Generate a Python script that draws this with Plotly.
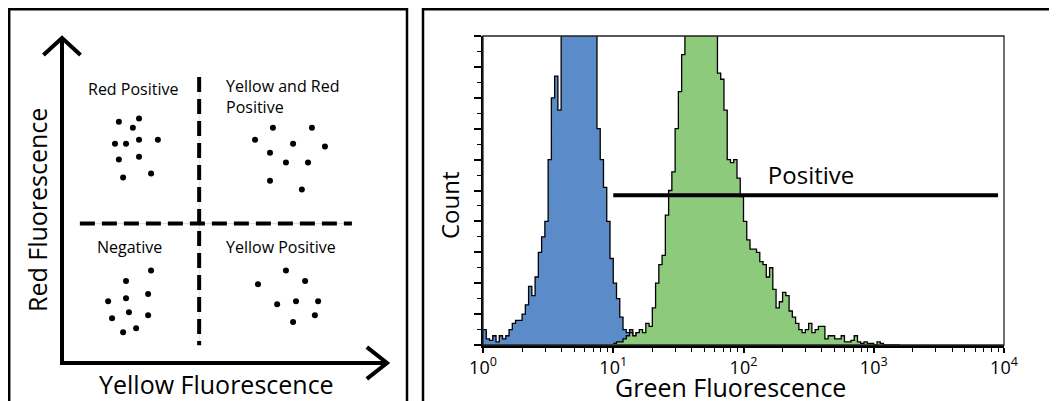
import numpy as np
import plotly.graph_objects as go

# The page body has an 8px margin, so the figure is drawn 8px right/down.
OFF = 8
W, H = 1057 - OFF, 401 - OFF
FONT = "Open Sans"

# ---------------- Right panel data (log-decade bins of width 0.025) ----------------
bin_width = 0.025
blue_start = 0.0
blue_counts = [5, 2, 1.5, 3, 1, 3, 2, 3, 5, 7, 8, 8, 10, 13, 19, 16, 22, 30, 35, 40,
               60, 80, 87, 76, 130, 118, 126, 135, 140, 142, 140, 135, 128, 118, 105,
               70, 60, 51, 40, 28, 20, 15, 9, 5, 4, 5, 3, 4, 2, 1, 1, 0.5, 1, 0.5, 0, 0]
green_start = 1.0
green_counts = [0.5, 1, 1, 2, 3, 4, 3, 4, 5, 4, 7, 6, 12, 20, 26, 29, 42, 50, 56, 70,
                82, 94, 115, 130, 140, 148, 152, 155, 152, 145, 135, 104, 88, 86, 76, 60,
                59, 60, 54, 48, 40, 34, 31, 31, 30, 27, 26, 22, 25, 18, 12, 14, 17, 16,
                11, 9, 7, 5, 4, 5, 7, 4, 5, 6, 6, 2, 3, 3, 2, 2, 3, 1, 1, 1.5, 3, 1,
                0.5, 1, 0.5, 0.5, 0, 1, 0.5, 0, 0, 0, 0, 0]
x_ticks = [1, 10, 100, 1000, 10000]
x_tick_text = ["10<sup>0</sup>", "10<sup>1</sup>", "10<sup>2</sup>", "10<sup>3</sup>", "10<sup>4</sup>"]
x_minor = [m * d for d in (1, 10, 100, 1000) for m in range(2, 10)]
gate_x = [10, 9000]
gate_y = [48.5, 48.5]
gate_label = "Positive"
gate_label_x = [330]
gate_label_y = [54]

# ---------------- Left panel data (schematic, arbitrary units 0-100) ----------------
red_pos_x = [17.5, 23.7, 21.8, 16.3, 19.7, 23.7, 29.5, 17.5, 23.7, 18.8, 27.4]
red_pos_y = [74.2, 75.2, 72.4, 67.5, 67.5, 68.7, 68.7, 62.6, 63.5, 57.1, 58.3]
both_pos_x = [64.9, 76.9, 59.4, 71.1, 80.9, 64.0, 68.9, 75.7, 64.0, 73.8]
both_pos_y = [72.4, 72.4, 68.7, 67.5, 66.6, 64.7, 61.7, 61.7, 56.1, 53.4]
neg_x = [27.4, 19.7, 26.5, 14.2, 19.7, 15.4, 20.6, 26.5, 18.8, 22.8]
neg_y = [28.5, 25.2, 21.2, 19.0, 19.9, 13.8, 15.6, 14.7, 9.5, 10.7]
yel_pos_x = [68.9, 74.8, 60.3, 66.2, 72.0, 78.8, 77.8, 71.1]
yel_pos_y = [28.5, 25.2, 24.2, 18.1, 19.0, 19.0, 14.7, 12.6]
gate_split_x = 42.2
gate_split_y = 42.9


def px(x):
    return (x - OFF) / W


def py(y):
    return 1 - (y - OFF) / H


def hist_xy(start, counts):
    edges = 10 ** (start + bin_width * np.arange(len(counts) + 1))
    vals = list(counts) + [counts[-1]]
    return edges, vals


fig = go.Figure()

bx, by = hist_xy(blue_start, blue_counts)
gx, gy = hist_xy(green_start, green_counts)
fig.add_trace(go.Scatter(x=bx, y=by, mode="lines", line=dict(shape="hv", color="black", width=1.3),
                         fill="tozeroy", fillcolor="#5b8cc9", xaxis="x", yaxis="y", showlegend=False))
fig.add_trace(go.Scatter(x=gx, y=gy, mode="lines", line=dict(shape="hv", color="black", width=1.3),
                         fill="tozeroy", fillcolor="#8dca7b", xaxis="x", yaxis="y", showlegend=False))
fig.add_trace(go.Scatter(x=gate_x, y=gate_y, mode="lines", line=dict(color="black", width=4),
                         xaxis="x", yaxis="y", showlegend=False))
fig.add_trace(go.Scatter(x=gate_label_x, y=gate_label_y, mode="text", text=[gate_label],
                         textfont=dict(family=FONT, size=24, color="black"),
                         xaxis="x", yaxis="y", showlegend=False))

# left panel dots
for xs, ys in [(red_pos_x, red_pos_y), (both_pos_x, both_pos_y), (neg_x, neg_y), (yel_pos_x, yel_pos_y)]:
    fig.add_trace(go.Scatter(x=xs, y=ys, mode="markers", marker=dict(color="black", size=6),
                             xaxis="x2", yaxis="y2", showlegend=False))

shapes = []
# outer panel boxes
shapes.append(dict(type="rect", xref="paper", yref="paper", x0=px(9.2), x1=px(407), y0=-0.1, y1=py(9.3),
                   line=dict(color="black", width=2.5)))
shapes.append(dict(type="rect", xref="paper", yref="paper", x0=px(423), x1=1.1, y0=-0.1, y1=py(9.3),
                   line=dict(color="black", width=2.5)))
# histogram frame (thin top/right)
shapes.append(dict(type="rect", xref="x domain", yref="y domain", x0=0, x1=1, y0=0, y1=1,
                   line=dict(color="#222", width=1.3)))
# left schematic: faint guide lines + dashed gates
shapes.append(dict(type="line", xref="x2", yref="y2", x0=gate_split_x, x1=gate_split_x, y0=5.5, y1=88,
                   line=dict(color="#dddddd", width=1)))
shapes.append(dict(type="line", xref="x2", yref="y2", x0=5.5, x1=89.2, y0=gate_split_y, y1=gate_split_y,
                   line=dict(color="#dddddd", width=1)))
shapes.append(dict(type="line", xref="x2", yref="y2", x0=gate_split_x, x1=gate_split_x, y0=88, y1=5.5,
                   line=dict(color="black", width=4, dash="15px,7px")))
shapes.append(dict(type="line", xref="x2", yref="y2", x0=5.5, x1=89.2, y0=gate_split_y, y1=gate_split_y,
                   line=dict(color="black", width=4, dash="15px,7px")))
# axes with arrows
shapes.append(dict(type="path", xref="x2", yref="y2", path="M 0,100 L 0,0 L 100,0",
                   line=dict(color="black", width=4)))
shapes.append(dict(type="path", xref="x2", yref="y2", path="M -5.7,94.8 L 0,100 L 5.7,94.8",
                   line=dict(color="black", width=4)))
shapes.append(dict(type="path", xref="x2", yref="y2", path="M 93.8,4.9 L 100,0 L 93.8,-4.9",
                   line=dict(color="black", width=4)))

lab = dict(family=FONT, size=16, color="black")
title_font = dict(family=FONT, size=25, color="black")
annotations = [
    dict(text="Red Positive", x=21.8, y=84.4, xref="x2", yref="y2", showarrow=False,
         xanchor="center", yanchor="middle", font=lab),
    dict(text="Yellow and Red<br>Positive", x=49.8, y=81.9, xref="x2", yref="y2", showarrow=False,
         xanchor="left", yanchor="middle", align="left", font=lab),
    dict(text="Negative", x=20.9, y=35.6, xref="x2", yref="y2", showarrow=False,
         xanchor="center", yanchor="middle", font=lab),
    dict(text="Yellow Positive", x=49.8, y=35.6, xref="x2", yref="y2", showarrow=False,
         xanchor="left", yanchor="middle", font=lab),
    dict(text="Yellow Fluorescence", x=px(216), y=py(384), xref="paper", yref="paper", showarrow=False,
         xanchor="center", yanchor="middle", font=title_font),
    dict(text="Red Fluorescence", x=px(37), y=py(210), xref="paper", yref="paper", showarrow=False,
         xanchor="center", yanchor="middle", textangle=-90, font=title_font),
    dict(text="Count", x=px(449), y=py(205), xref="paper", yref="paper", showarrow=False,
         xanchor="center", yanchor="middle", textangle=-90,
         font=dict(family=FONT, size=24, color="black")),
    dict(text="Green Fluorescence", x=px(730), y=py(387), xref="paper", yref="paper", showarrow=False,
         xanchor="center", yanchor="middle", font=title_font),
]

fig.update_layout(
    width=W, height=H, margin=dict(l=0, r=0, t=0, b=0),
    paper_bgcolor="white", plot_bgcolor="white",
    font=dict(family=FONT, color="black"),
    shapes=shapes, annotations=annotations,
    xaxis=dict(domain=[px(483), px(1004)], type="log", range=[0, 4], anchor="y",
               showline=True, linewidth=3, linecolor="black", showgrid=False, zeroline=False,
               ticks="outside", ticklen=5, tickwidth=1.5, tickcolor="black",
               tickmode="array", tickvals=x_ticks, ticktext=x_tick_text, ticklabelstandoff=-1,
               tickfont=dict(family=FONT, size=18, color="black"), automargin=False,
               minor=dict(tickmode="array", tickvals=x_minor, ticks="outside", ticklen=4,
                          tickwidth=1.2, tickcolor="black", showgrid=False)),
    yaxis=dict(domain=[py(345), py(36)], range=[0, 100], anchor="x",
               showline=True, linewidth=2, linecolor="black", showgrid=False, zeroline=False,
               ticks="outside", tick0=0, dtick=10, ticklen=7, tickwidth=1.5, tickcolor="black",
               showticklabels=False, automargin=False,
               minor=dict(dtick=5, ticks="outside", ticklen=4, tickwidth=1.2, tickcolor="black",
                          showgrid=False)),
    xaxis2=dict(domain=[px(29.5), px(419.5)], range=[-10, 110], anchor="y2", visible=False),
    yaxis2=dict(domain=[py(395.5), py(21.75)], range=[-10, 105], anchor="x2", visible=False),
)

fig.write_html("out.html")
